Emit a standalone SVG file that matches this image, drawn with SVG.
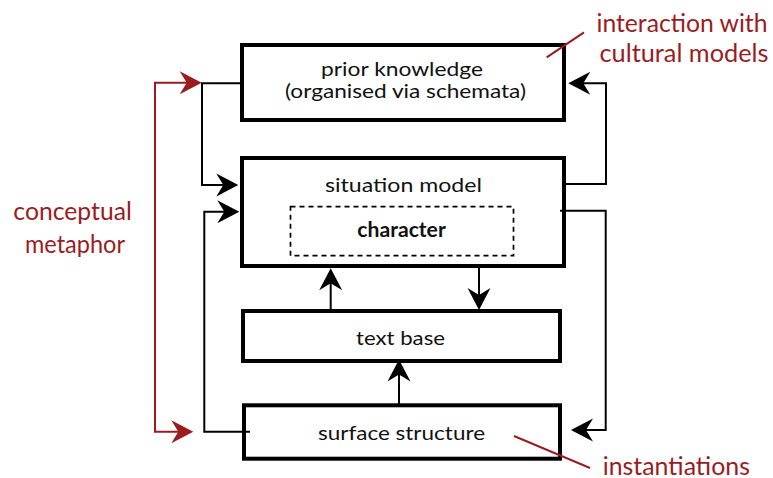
<svg xmlns="http://www.w3.org/2000/svg" width="773" height="478" viewBox="0 0 773 478">
<style>
.box{fill:#fff;stroke:#000;stroke-width:4}
.dash{fill:none;stroke:#000;stroke-width:1.7;stroke-dasharray:5 4}
.t{font-family:Lato,"Liberation Sans",sans-serif;font-size:20px;fill:#111}
.b{font-weight:bold}
.r{font-family:Lato,"Liberation Sans",sans-serif;font-size:25.5px;fill:#9b1c1f}
.c{fill:none;stroke:#000;stroke-width:2}
.rc{fill:none;stroke:#9b1c1f;stroke-width:2}
</style>
<defs>
<marker id="ak" viewBox="-23 -12 24 24" markerWidth="24" markerHeight="24" refX="-10" refY="0" orient="auto" markerUnits="userSpaceOnUse">
<path d="M0,0 L-22,-11.5 L-15,0 L-22,11.5 Z" fill="#000"/>
</marker>
<marker id="ar" viewBox="-23 -12 24 24" markerWidth="24" markerHeight="24" refX="-10" refY="0" orient="auto" markerUnits="userSpaceOnUse">
<path d="M0,0 L-22,-11.5 L-15,0 L-22,11.5 Z" fill="#9b1c1f"/>
</marker>
</defs>
<rect width="773" height="478" fill="#fff"/>
<g id="prior-knowledge">
<rect class="box" x="242" y="45" width="322" height="75"/>
<text class="t" x="321" y="75.5" textLength="162" lengthAdjust="spacingAndGlyphs">prior knowledge</text>
<text class="t" x="285" y="98" textLength="241" lengthAdjust="spacingAndGlyphs">(organised via schemata)</text>
</g>
<g id="situation-model">
<rect class="box" x="242" y="158" width="322" height="108"/>
<text class="t" x="325" y="191.5" textLength="157" lengthAdjust="spacingAndGlyphs">situation model</text>
</g>
<g id="character">
<rect class="dash" x="290.5" y="206.7" width="223" height="49"/>
<text class="t b" x="357.3" y="236.7" textLength="88.5" lengthAdjust="spacingAndGlyphs">character</text>
</g>
<g id="text-base">
<rect class="box" x="243" y="311" width="317" height="50"/>
<text class="t" x="356" y="345" textLength="89" lengthAdjust="spacingAndGlyphs">text base</text>
</g>
<g id="surface-structure">
<rect class="box" x="244" y="405.3" width="316" height="53.4"/>
<text class="t" x="318" y="439.5" textLength="167" lengthAdjust="spacingAndGlyphs">surface structure</text>
</g>
<g id="connectors">
<path class="c" d="M242,83.3 H202 V185 H228.3" marker-end="url(#ak)"/>
<path class="c" d="M250,431.7 H204.3 V211.7 H229.3" marker-end="url(#ak)"/>
<path class="c" d="M564,184 H606 V83.3 H578.3" marker-end="url(#ak)"/>
<path class="c" d="M560,210.7 H605.7 V430 H581" marker-end="url(#ak)"/>
<path class="c" d="M330.7,311 V278.3" marker-end="url(#ak)"/>
<path class="c" d="M479,266 V300" marker-end="url(#ak)"/>
<path class="c" d="M399,405 V369.5" marker-end="url(#ak)"/>
<path class="rc" d="M155,257 V82.8 H191.7" marker-end="url(#ar)"/>
<path class="rc" d="M155,257 V431.7 H183.3" marker-end="url(#ar)"/>
<path class="rc" d="M546.7,57.3 L584,32.3"/>
<path class="rc" d="M514,436 L590,468"/>
</g>
<g id="labels">
<text class="r" x="596.5" y="31.7" textLength="171" lengthAdjust="spacingAndGlyphs">interaction with</text>
<text class="r" x="599.5" y="61.7" textLength="169" lengthAdjust="spacingAndGlyphs">cultural models</text>
<text class="r" x="13.3" y="220" textLength="118.5" lengthAdjust="spacingAndGlyphs">conceptual</text>
<text class="r" x="25" y="253" textLength="100" lengthAdjust="spacingAndGlyphs">metaphor</text>
<text class="r" x="602.7" y="474.5" textLength="147.3" lengthAdjust="spacingAndGlyphs">instantiations</text>
</g>
</svg>
